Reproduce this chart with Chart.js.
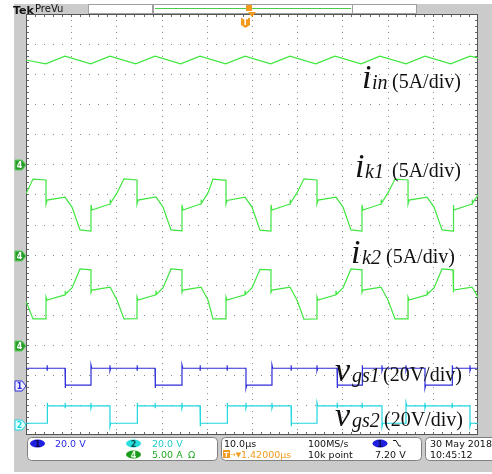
<!DOCTYPE html>
<html>
<head>
<meta charset="utf-8">
<script src="https://cdn.jsdelivr.net/npm/chart.js@4.4.1/dist/chart.umd.min.js"></script>
<style>
  html, body { margin: 0; padding: 0; background: #fff; overflow: hidden; }
  canvas { display: block; }
</style>
</head>
<body>
<canvas id="scope" width="492" height="474"></canvas>
<script>
// time axis in microseconds (10 us/div), vertical axis in screen divisions
const iinTime = [0, 4.36, 8.63, 14.31, 18.58, 24.27, 28.54, 34.23, 38.50, 44.18, 48.45,
  54.14, 58.41, 64.09, 68.36, 74.12, 78.32, 84.07, 88.27, 93.96, 98.23, 100];
const iinDiv = [12.47, 12.34, 12.60, 12.34, 12.60, 12.34, 12.60, 12.34, 12.60, 12.34, 12.60,
  12.34, 12.60, 12.34, 12.60, 12.34, 12.60, 12.34, 12.60, 12.34, 12.60, 12.54];

const ik1Time = [0,
  1.55, 4.43, 4.43, 4.65, 8.63, 10.18, 11.95, 14.38, 14.38, 14.60, 18.59, 18.59, 18.70, 20.13,
  21.68, 24.56, 24.56, 24.78, 28.76, 30.31, 32.08, 34.51, 34.51, 34.73, 38.72, 38.72, 38.83, 40.26,
  41.37, 44.25, 44.25, 44.47, 48.45, 50.00, 51.77, 54.20, 54.20, 54.42, 58.41, 58.41, 58.52, 59.95,
  61.50, 64.38, 64.38, 64.60, 68.58, 70.13, 71.90, 74.33, 74.33, 74.55, 78.54, 78.54, 78.65, 80.08,
  81.64, 84.52, 84.52, 84.74, 88.72, 90.27, 92.04, 94.47, 94.47, 94.69, 98.68, 98.68, 98.79, 100];
const ik1Div = [8.02,
  8.51, 8.48, 7.68, 7.81, 7.91, 7.58, 6.82, 6.78, 7.65, 7.48, 7.68, 7.83, 7.70, 8.05,
  8.52, 8.48, 7.68, 7.81, 7.92, 7.58, 6.82, 6.79, 7.65, 7.48, 7.69, 7.83, 7.70, 8.05,
  8.51, 8.47, 7.68, 7.80, 7.91, 7.58, 6.81, 6.78, 7.65, 7.48, 7.68, 7.83, 7.70, 8.05,
  8.52, 8.48, 7.69, 7.81, 7.91, 7.58, 6.82, 6.78, 7.65, 7.48, 7.68, 7.83, 7.70, 8.05,
  8.51, 8.48, 7.68, 7.81, 7.91, 7.58, 6.82, 6.78, 7.65, 7.48, 7.68, 7.83, 7.70, 7.98];

const ik2Time = [0,
  1.55, 4.43, 4.43, 4.65, 8.63, 8.63, 8.75, 10.18, 11.95, 14.38, 14.38, 14.60, 18.59, 20.13,
  21.68, 24.56, 24.56, 24.78, 28.76, 28.76, 28.88, 30.31, 32.08, 34.51, 34.51, 34.73, 38.72, 40.26,
  41.37, 44.25, 44.25, 44.47, 48.45, 48.45, 48.57, 50.00, 51.77, 54.20, 54.20, 54.42, 58.41, 59.95,
  61.50, 64.38, 64.38, 64.60, 68.58, 68.58, 68.70, 70.13, 71.90, 74.33, 74.33, 74.55, 78.54, 80.08,
  81.64, 84.52, 84.52, 84.74, 88.72, 88.72, 88.84, 90.27, 92.04, 94.47, 94.47, 94.69, 98.68, 100];
const ik2Div = [4.45,
  3.86, 3.86, 4.59, 4.49, 4.66, 4.80, 4.68, 4.89, 5.52, 5.49, 4.74, 4.82, 4.92, 4.49,
  3.86, 3.87, 4.59, 4.49, 4.66, 4.80, 4.68, 4.89, 5.52, 5.49, 4.74, 4.82, 4.92, 4.49,
  3.86, 3.86, 4.59, 4.49, 4.66, 4.80, 4.68, 4.89, 5.51, 5.49, 4.74, 4.82, 4.92, 4.49,
  3.85, 3.86, 4.59, 4.49, 4.66, 4.80, 4.68, 4.89, 5.52, 5.49, 4.74, 4.82, 4.92, 4.49,
  3.86, 3.86, 4.59, 4.49, 4.66, 4.80, 4.68, 4.89, 5.52, 5.49, 4.74, 4.82, 4.92, 4.58];

// gate signals: edge instants (us) and levels (div)
const vgs1FallUs = [8.63, 28.54, 48.67, 68.81, 88.27];
const vgs1RiseUs = [14.38, 34.51, 54.42, 74.34, 94.25];
const vgs2RiseUs = [4.65, 24.56, 44.47, 64.38, 84.07];
const vgs2FallUs = [18.58, 38.50, 58.63, 78.76, 98.23];
const vgs1Levels = [1.66, 2.22];
const vgs2Levels = [0.39, 0.97];

const traceSymbols = ['i', 'i', 'i', 'v', 'v'];
const traceSubscripts = ['in', 'k1', 'k2', 'gs1', 'gs2'];
const traceScales = ['(5A/div)', '(5A/div)', '(5A/div)', '(20V/div)', '(20V/div)'];

const toPoints = (xs, ys) => xs.map((x, i) => ({ x, y: ys[i] }));

// step waveform from its own edges, with small ringing at the other gate's edges
function gatePoints(falls, rises, otherEdges, levels, startHigh) {
  const [low, high] = levels;
  const events = [
    ...falls.map(t => ({ t, kind: 'fall' })),
    ...rises.map(t => ({ t, kind: 'rise' })),
    ...otherEdges.map(t => ({ t, kind: 'ring' })),
  ].sort((a, b) => a.t - b.t);
  let level = startHigh ? high : low;
  const pts = [{ x: 0, y: level }];
  events.forEach(e => {
    if (e.kind === 'fall') {
      pts.push({ x: e.t, y: high }, { x: e.t, y: low - 0.1 }, { x: e.t + 0.15, y: low });
      level = low;
    } else if (e.kind === 'rise') {
      pts.push({ x: e.t, y: low }, { x: e.t, y: high + 0.1 }, { x: e.t + 0.15, y: high });
      level = high;
    } else {
      pts.push({ x: e.t, y: level }, { x: e.t, y: level + 0.1 }, { x: e.t, y: level - 0.08 }, { x: e.t + 0.15, y: level });
    }
  });
  pts.push({ x: 100, y: level });
  return pts;
}

const GREEN = '#3fe63f';
const BLUE = '#2c2cd8';
const CYAN = '#1ed6de';
const GRAY = '#cbcbcb';

function roundBox(ctx, x, y, w, h, r) {
  ctx.beginPath();
  ctx.moveTo(x + r, y);
  ctx.lineTo(x + w - r, y);
  ctx.quadraticCurveTo(x + w, y, x + w, y + r);
  ctx.lineTo(x + w, y + h - r);
  ctx.quadraticCurveTo(x + w, y + h, x + w - r, y + h);
  ctx.lineTo(x + r, y + h);
  ctx.quadraticCurveTo(x, y + h, x, y + h - r);
  ctx.lineTo(x, y + r);
  ctx.quadraticCurveTo(x, y, x + r, y);
  ctx.closePath();
}

function chanBadge(ctx, cx, cy, fill, text, textColor) {
  ctx.beginPath();
  ctx.ellipse(cx, cy, 7.5, 4, 0, 0, Math.PI * 2);
  ctx.fillStyle = fill;
  ctx.fill();
  ctx.fillStyle = textColor;
  ctx.font = 'bold 8px "DejaVu Sans"';
  ctx.textAlign = 'center';
  ctx.fillText(text, cx, cy + 3);
  ctx.textAlign = 'left';
}

function sideMarker(ctx, cy, fill, stroke, text, textColor) {
  ctx.beginPath();
  ctx.moveTo(15, cy - 5);
  ctx.lineTo(22, cy - 5);
  ctx.lineTo(26, cy);
  ctx.lineTo(22, cy + 5);
  ctx.lineTo(15, cy + 5);
  ctx.closePath();
  ctx.fillStyle = fill;
  ctx.fill();
  ctx.strokeStyle = stroke;
  ctx.lineWidth = 1;
  ctx.stroke();
  ctx.fillStyle = textColor;
  ctx.font = 'bold 8px "DejaVu Sans"';
  ctx.textAlign = 'center';
  ctx.fillText(text, 19.5, cy + 3);
  ctx.textAlign = 'left';
}

const scopeScreen = {
  id: 'scopeScreen',
  beforeDraw(chart) {
    const { ctx, chartArea: a, scales: { x, y } } = chart;
    const W = chart.width, H = chart.height;
    ctx.save();
    ctx.fillStyle = '#ffffff';
    ctx.fillRect(0, 0, W, H);

    // bezel
    ctx.fillStyle = GRAY;
    ctx.fillRect(14, 4, a.left - 14, 468);
    ctx.fillRect(a.right, 4, W - a.right, 468);
    ctx.fillRect(14, 4, 74, a.top - 4);
    ctx.fillRect(417, 4, W - 417, a.top - 4);
    ctx.fillRect(14, a.bottom, W - 14, 472 - a.bottom);

    // header: record view
    ctx.strokeStyle = '#a0a0a0';
    ctx.lineWidth = 1;
    ctx.strokeRect(88.5, 4.5, 64, 9);
    ctx.strokeRect(153.5, 4.5, 199, 9);
    ctx.strokeRect(352.5, 4.5, 64, 9);
    ctx.strokeStyle = '#4ccc4c';
    ctx.beginPath();
    ctx.moveTo(155, 8.5);
    ctx.lineTo(351, 8.5);
    ctx.stroke();

    ctx.fillStyle = '#111';
    ctx.font = 'bold 11px "DejaVu Sans"';
    ctx.fillText('Tek', 13, 13.5);
    ctx.font = '10px "DejaVu Sans"';
    ctx.fillText('PreVu', 35, 11.5);

    // graticule dots
    ctx.fillStyle = '#8a8a8a';
    for (let i = 1; i < 10; i++) {
      const px = Math.round(x.getPixelForValue(i * 10));
      for (let j = 1; j < 70; j++) {
        ctx.fillRect(px, Math.round(y.getPixelForValue(j * 0.2)), 1, 1);
      }
    }
    for (let j = 1; j < 14; j++) {
      const py = Math.round(y.getPixelForValue(j));
      for (let i = 1; i < 50; i++) {
        ctx.fillRect(Math.round(x.getPixelForValue(i * 2)), py, 1, 1);
      }
    }

    // edge ticks
    ctx.fillStyle = '#6a6a6a';
    for (let i = 1; i < 50; i++) {
      const px = Math.round(x.getPixelForValue(i * 2));
      ctx.fillRect(px, a.top, 1, 3);
      ctx.fillRect(px, a.bottom - 3, 1, 3);
    }
    for (let j = 1; j < 70; j++) {
      const py = Math.round(y.getPixelForValue(j * 0.2));
      ctx.fillRect(a.left, py, 3, 1);
      ctx.fillRect(a.right - 3, py, 3, 1);
    }

    ctx.strokeStyle = '#555';
    ctx.strokeRect(a.left + 0.5, a.top + 0.5, a.right - a.left - 1, a.bottom - a.top - 1);
    ctx.restore();
  },
  afterDraw(chart) {
    const { ctx } = chart;
    ctx.save();

    // trace labels
    const spots = [[362, 372, 392, 88], [355, 365, 392, 177], [351, 362, 386, 263],
      [335, 352, 383, 381], [335, 352, 384, 426]];
    ctx.fillStyle = '#111';
    traceSymbols.forEach((s, i) => {
      const [xs, xb, xu, base] = spots[i];
      ctx.font = 'italic 34px "Liberation Serif"';
      ctx.fillText(s, xs, base);
      ctx.font = 'italic 20px "Liberation Serif"';
      ctx.fillText(traceSubscripts[i], xb, base + 1);
      ctx.font = '20px "Liberation Serif"';
      ctx.fillText(traceScales[i], xu, base);
    });

    // channel ground markers
    [165, 256, 346].forEach(cy => sideMarker(ctx, cy, '#2c9c2c', '#5fd05f', '4', '#ffffff'));
    sideMarker(ctx, 386, '#eeeeff', BLUE, '1', BLUE);
    sideMarker(ctx, 425, '#e6ffff', CYAN, '2', CYAN);

    // trigger markers
    ctx.fillStyle = '#f39a1e';
    ctx.fillRect(246, 5, 6, 6);
    ctx.beginPath();
    ctx.moveTo(248, 12); ctx.lineTo(256, 12); ctx.lineTo(252, 17); ctx.closePath();
    ctx.fill();
    ctx.beginPath();
    ctx.moveTo(241, 18); ctx.lineTo(250, 18); ctx.lineTo(250, 25); ctx.lineTo(245.5, 28);
    ctx.lineTo(241, 25); ctx.closePath();
    ctx.fill();
    ctx.fillStyle = '#ffffff';
    ctx.font = 'bold 8px "DejaVu Sans"';
    ctx.fillText('T', 242.5, 25);

    // status panel
    ctx.fillStyle = '#ffffff';
    ctx.strokeStyle = '#808080';
    ctx.lineWidth = 1;
    [[27.5, 190], [221.5, 200], [425.5, 80]].forEach(([bx, bw]) => {
      roundBox(ctx, bx, 437.5, bw, 23, 4);
      ctx.fill();
      ctx.stroke();
    });

    chanBadge(ctx, 37.5, 443.5, '#1f1fe0', '1', '#0b0b55');
    chanBadge(ctx, 133.5, 443.5, '#29dede', '2', '#0b4b4b');
    chanBadge(ctx, 133.5, 454.5, '#1b9b1b', '4', '#eaffea');
    chanBadge(ctx, 380, 443.5, '#1f1fe0', '1', '#0b0b55');

    ctx.font = '9.5px "DejaVu Sans"';
    ctx.fillStyle = '#2a2ae6';
    ctx.fillText('20.0 V', 55, 447);
    ctx.fillStyle = '#22cccc';
    ctx.fillText('20.0 V', 152, 447);
    ctx.fillStyle = '#22a822';
    ctx.fillText('5.00 A', 152, 458);
    ctx.fillText('Ω', 188, 458);

    ctx.fillStyle = '#111';
    ctx.fillText('10.0µs', 224, 447);
    ctx.fillText('100MS/s', 308, 447);
    ctx.fillText('10k point', 308, 458);
    ctx.fillText('7.20 V', 375, 458);
    ctx.fillText('30 May 2018', 430, 447);
    ctx.fillText('10:45:12', 430, 458);

    // falling-edge trigger glyph
    ctx.strokeStyle = '#111';
    ctx.beginPath();
    ctx.moveTo(393, 440.5); ctx.lineTo(396, 440.5); ctx.lineTo(399, 446); ctx.lineTo(401, 446);
    ctx.stroke();

    // trigger position readout
    ctx.fillStyle = '#f39a1e';
    ctx.fillRect(223, 450, 7, 8);
    ctx.fillStyle = '#ffffff';
    ctx.font = 'bold 7px "DejaVu Sans"';
    ctx.fillText('T', 224, 457);
    ctx.fillStyle = '#f39a1e';
    ctx.font = '7px "DejaVu Sans"';
    ctx.fillText('→▼', 230, 457);
    ctx.font = '9.5px "DejaVu Sans"';
    ctx.fillText('1.42000µs', 241, 458);

    ctx.restore();
  }
};

const canvas = document.getElementById('scope');
new Chart(canvas, {
  type: 'line',
  data: {
    datasets: [
      { label: 'i_in', data: toPoints(iinTime, iinDiv), borderColor: GREEN },
      { label: 'i_k1', data: toPoints(ik1Time, ik1Div), borderColor: GREEN },
      { label: 'i_k2', data: toPoints(ik2Time, ik2Div), borderColor: GREEN },
      { label: 'v_gs1', data: gatePoints(vgs1FallUs, vgs1RiseUs, [...vgs2RiseUs, ...vgs2FallUs], vgs1Levels, true), borderColor: BLUE },
      { label: 'v_gs2', data: gatePoints(vgs2FallUs, vgs2RiseUs, [...vgs1RiseUs, ...vgs1FallUs], vgs2Levels, false), borderColor: CYAN },
    ],
  },
  options: {
    responsive: false,
    animation: false,
    devicePixelRatio: 1,
    layout: { padding: { left: 26, right: 14, top: 14, bottom: 39 } },
    plugins: { legend: { display: false }, tooltip: { enabled: false } },
    elements: {
      point: { radius: 0 },
      line: { tension: 0, borderWidth: 1.2, fill: false },
    },
    scales: {
      x: { type: 'linear', min: 0, max: 100, display: false },
      y: { type: 'linear', min: 0, max: 14, display: false },
    },
  },
  plugins: [scopeScreen],
});
</script>
</body>
</html>
